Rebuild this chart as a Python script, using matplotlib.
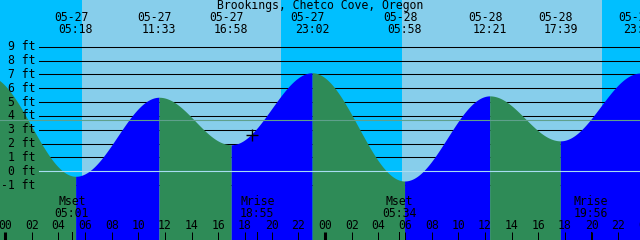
import numpy as np
import matplotlib
matplotlib.use('Agg')
import matplotlib.pyplot as plt
import matplotlib.transforms as mtrans

# ---------------- data ----------------
title = "Brookings, Chetco Cove, Oregon"
# tide extrema: hours since 05-27 00:00 and height (ft)
tide_hours = [-1.33, 5.30, 11.55, 16.967, 23.033, 29.967, 36.35, 41.65, 47.65]
tide_heights = [6.9, -0.36, 5.35, 1.92, 7.12, -0.70, 5.45, 2.2, 7.1]
# labels for the extrema shown at the top (skip the first, off-chart)
tide_dates = ["05-27", "05-27", "05-27", "05-27", "05-28", "05-28", "05-28", "05-28"]
tide_times = ["05:18", "11:33", "16:58", "23:02", "05:58", "12:21", "17:39", "23:39"]
# daylight periods (hours)
sunrise_hours = [5.775, 29.775]
sunset_hours = [20.70, 44.775]
# moon events
moon_names = ["Mset", "Mrise", "Mset", "Mrise"]
moon_times = ["05:01", "18:55", "05:34", "19:56"]
moon_hours = [5.017, 18.917, 29.567, 43.933]
# y grid levels (ft)
ft_levels = list(range(-1, 10))
msl_level = 3.68
# hour ticks
hour_ticks = list(range(0, 49, 2))
# current-time marker
now_hour, now_height = 18.55, 2.6

# ---------------- style ----------------
NIGHT = '#00BFFF'
DAY = '#87CEEB'
FLOOD = '#0000FF'
EBB = '#2E8B57'
FONT = 'DejaVu Sans Mono'
FS = 8.3

fig = plt.figure(figsize=(6.4, 2.4), dpi=100)
ax = fig.add_axes([0, 0, 1, 1])
x0, x1 = -0.375, 47.625
y0, y1 = -4.964, 12.377
ax.set_xlim(x0, x1)
ax.set_ylim(y0, y1)
ax.axis('off')

# background night / day
ax.axvspan(x0, x1, color=NIGHT, lw=0, zorder=0)
for sr, ss in zip(sunrise_hours, sunset_hours):
    ax.axvspan(sr, ss, color=DAY, lw=0, zorder=0.5)

# ft lines (under the tide fill)
for lv in ft_levels:
    if lv == 0:
        continue
    ax.axhline(lv, xmin=39 / 640, xmax=1, color='black', lw=0.75, zorder=1)

# tide curve: half-cosine between extrema
for i in range(len(tide_hours) - 1):
    ta, tb = tide_hours[i], tide_hours[i + 1]
    ha, hb = tide_heights[i], tide_heights[i + 1]
    t = np.linspace(ta, tb, 200)
    h = ha + (hb - ha) * (1 - np.cos(np.pi * (t - ta) / (tb - ta))) / 2
    col = FLOOD if hb > ha else EBB
    ax.fill_between(t, y0, h, color=col, lw=0, zorder=2)

# datum and MSL lines on top
ax.axhline(0, xmin=39 / 640, xmax=1, color='#A8DDF2', lw=0.8, zorder=3)
ax.axhline(msl_level, xmin=0, xmax=1, color='#5FA08C', lw=0.8, zorder=3)

# ft labels
for lv in ft_levels:
    ax.text(x0 + (35.5 / 640) * (x1 - x0), lv, f"{lv} ft", ha='right', va='center',
            family=FONT, fontsize=FS, color='black', zorder=5)

# current time marker
ax.plot([now_hour], [now_height], marker='+', color='black', ms=8, mew=1.0, zorder=6)

bt = mtrans.blended_transform_factory(ax.transData, ax.transAxes)
bt_date = mtrans.offset_copy(bt, fig=fig, x=-4.5, y=0, units='dots')

# title
ax.text(0.5, 0.977, title, transform=ax.transAxes, ha='center', va='center',
        family=FONT, fontsize=FS, color='black', zorder=5)
# tide extrema labels
for hr, d, tm in zip(tide_hours[1:], tide_dates, tide_times):
    ax.text(hr, 0.928, d, transform=bt_date, ha='center', va='center',
            family=FONT, fontsize=FS, color='black', zorder=5, clip_on=False)
    ax.text(hr, 0.878, tm, transform=bt, ha='center', va='center',
            family=FONT, fontsize=FS, color='black', zorder=5, clip_on=False)

# moon labels
for nm, tm, hr in zip(moon_names, moon_times, moon_hours):
    ax.text(hr, 0.16, nm, transform=bt, ha='center', va='center',
            family=FONT, fontsize=FS, color='black', zorder=5)
    ax.text(hr, 0.109, tm, transform=bt, ha='center', va='center',
            family=FONT, fontsize=FS, color='black', zorder=5)
    ax.plot([hr, hr], [0, 8 / 240], transform=bt, color='black', lw=0.72, zorder=5)

# hour ticks and labels
for hr in hour_ticks:
    ax.text(hr, 0.059, f"{hr % 24:02d}", transform=bt, ha='center', va='center',
            family=FONT, fontsize=FS, color='black', zorder=5, clip_on=False)
    lw = 2.2 if hr % 24 == 0 else 0.72
    ax.plot([hr, hr], [0, 8 / 240], transform=bt, color='black', lw=lw,
            solid_capstyle='butt', zorder=5)

fig.savefig('out.png', dpi=100)
